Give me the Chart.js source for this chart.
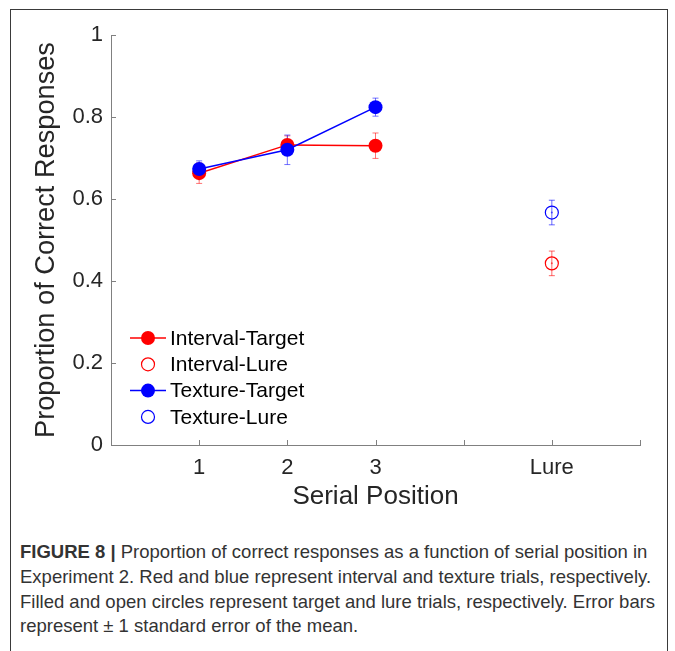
<!DOCTYPE html>
<html>
<head>
<meta charset="utf-8">
<script src="https://cdn.jsdelivr.net/npm/chart.js@4.4.0/dist/chart.umd.min.js"></script>
<style>
  body { margin: 0; background: #fff; width: 675px; height: 651px; overflow: hidden; position: relative;
         font-family: "Liberation Sans", Arial, sans-serif; }
  #frame { position: absolute; left: 10px; top: 9px; width: 656px; height: 700px; border: 1.5px solid #3a3a3a; }
  #wrap { position: absolute; left: 0; top: 0; width: 675px; height: 520px; }
  #caption { position: absolute; left: 20px; top: 540px; font-size: 18.5px; line-height: 24.8px;
             color: #333; white-space: nowrap; }
</style>
</head>
<body>
<div id="frame"></div>
<div id="wrap"><canvas id="chart"></canvas></div>
<div id="caption">
  <b>FIGURE 8 |</b> Proportion of correct responses as a function of serial position in<br>
  Experiment 2. Red and blue represent interval and texture trials, respectively.<br>
  Filled and open circles represent target and lure trials, respectively. Error bars<br>
  represent &plusmn; 1 standard error of the mean.
</div>
<script>
console.log("chart script starting.");

// x axis: serial positions 1-3, then the lure column
const tickPositions = [1, 2, 3, 4, 5, 6];
const tickLabels = ['1', '2', '3', '', 'Lure', ''];
const yTicks = [0, 0.2, 0.4, 0.6, 0.8, 1];

const targetPositions = [1, 2, 3];
const lurePosition = [5];

const intervalTarget = [0.663, 0.732, 0.730];
const intervalTargetErr = [0.025, 0.022, 0.031];
const textureTarget = [0.673, 0.720, 0.824];
const textureTargetErr = [0.020, 0.036, 0.022];

const intervalLure = [0.443];
const intervalLureErr = [0.030];
const textureLure = [0.567];
const textureLureErr = [0.030];

const RED = '#ff0000';
const BLUE = '#0000ff';

const toPoints = (xs, ys) => xs.map((x, i) => ({ x: x, y: ys[i] }));

// error bars, drawn under the markers
const errorBars = {
    id: 'errorBars',
    beforeDatasetsDraw(chart) {
        const ctx = chart.ctx;
        const yScale = chart.scales.y;
        chart.data.datasets.forEach((ds, i) => {
            if (!ds.errors) return;
            const meta = chart.getDatasetMeta(i);
            ctx.save();
            ctx.strokeStyle = ds.errorColor;
            ctx.lineWidth = 1;
            meta.data.forEach((pt, j) => {
                const v = ds.data[j].y;
                const top = yScale.getPixelForValue(v + ds.errors[j]);
                const bot = yScale.getPixelForValue(v - ds.errors[j]);
                ctx.beginPath();
                ctx.moveTo(pt.x, top); ctx.lineTo(pt.x, bot);
                ctx.moveTo(pt.x - 3, top); ctx.lineTo(pt.x + 3, top);
                ctx.moveTo(pt.x - 3, bot); ctx.lineTo(pt.x + 3, bot);
                ctx.stroke();
            });
            ctx.restore();
        });
    },
    afterDatasetsDraw(chart) {
        // small dot showing through the open markers
        const ctx = chart.ctx;
        chart.data.datasets.forEach((ds, i) => {
            if (!ds.openMarker) return;
            chart.getDatasetMeta(i).data.forEach(pt => {
                ctx.save();
                ctx.fillStyle = ds.errorColor;
                ctx.beginPath();
                ctx.arc(pt.x, pt.y, 1, 0, Math.PI * 2);
                ctx.fill();
                ctx.restore();
            });
        });
    }
};

// matlab style ticks pointing into the plot
const innerTicks = {
    id: 'innerTicks',
    afterDraw(chart) {
        const ctx = chart.ctx;
        const area = chart.chartArea;
        const { x, y } = chart.scales;
        ctx.save();
        ctx.strokeStyle = '#808080';
        ctx.lineWidth = 1;
        ctx.beginPath();
        y.ticks.forEach(t => {
            const py = Math.round(y.getPixelForValue(t.value)) + 0.5;
            ctx.moveTo(area.left, py); ctx.lineTo(area.left + 5, py);
        });
        x.ticks.forEach(t => {
            const px = Math.round(x.getPixelForValue(t.value)) + 0.5;
            ctx.moveTo(px, area.bottom); ctx.lineTo(px, area.bottom - 5);
        });
        ctx.stroke();
        ctx.restore();
    }
};

// legend in the lower left of the axes, line + marker like matlab
const insideLegend = {
    id: 'insideLegend',
    afterDraw(chart) {
        const ctx = chart.ctx;
        ctx.save();
        ctx.font = '21px "Liberation Sans", Arial, sans-serif';
        ctx.textBaseline = 'middle';
        ctx.textAlign = 'left';
        chart.data.datasets.forEach((ds, i) => {
            const yy = 338 + i * 26.3;
            ctx.strokeStyle = ds.borderColor;
            ctx.lineWidth = 1.5;
            if (ds.showLine) {
                ctx.beginPath();
                ctx.moveTo(130, yy); ctx.lineTo(166, yy);
                ctx.stroke();
            }
            ctx.beginPath();
            ctx.arc(148, yy, ds.openMarker ? 6.5 : 7, 0, Math.PI * 2);
            if (ds.openMarker) {
                ctx.lineWidth = 1.2;
                ctx.stroke();
            } else {
                ctx.fillStyle = ds.borderColor;
                ctx.fill();
            }
            ctx.fillStyle = '#000';
            ctx.fillText(ds.label, 170, yy + 1);
        });
        ctx.restore();
    }
};

const ctx = document.getElementById('chart').getContext('2d');

const myChart = new Chart(ctx, {
    type: 'scatter',
    data: {
        datasets: [
            {
                label: 'Interval-Target',
                data: toPoints(targetPositions, intervalTarget),
                errors: intervalTargetErr,
                errorColor: 'rgba(255,0,0,0.55)',
                showLine: true,
                borderColor: RED, backgroundColor: RED,
                borderWidth: 1.5, pointRadius: 7, pointBorderWidth: 0,
                order: 2
            },
            {
                label: 'Interval-Lure',
                data: toPoints(lurePosition, intervalLure),
                errors: intervalLureErr,
                errorColor: 'rgba(255,0,0,0.6)',
                openMarker: true,
                showLine: false,
                borderColor: RED, backgroundColor: 'rgba(0,0,0,0)',
                pointRadius: 6.5, pointBorderWidth: 1.2,
                order: 4
            },
            {
                label: 'Texture-Target',
                data: toPoints(targetPositions, textureTarget),
                errors: textureTargetErr,
                errorColor: 'rgba(0,0,255,0.55)',
                showLine: true,
                borderColor: BLUE, backgroundColor: BLUE,
                borderWidth: 1.5, pointRadius: 7, pointBorderWidth: 0,
                order: 1
            },
            {
                label: 'Texture-Lure',
                data: toPoints(lurePosition, textureLure),
                errors: textureLureErr,
                errorColor: 'rgba(0,0,255,0.6)',
                openMarker: true,
                showLine: false,
                borderColor: BLUE, backgroundColor: 'rgba(0,0,0,0)',
                pointRadius: 6.5, pointBorderWidth: 1.2,
                order: 3
            }
        ]
    },
    options: {
        responsive: true,
        maintainAspectRatio: false,
        animation: false,
        layout: { padding: { left: 0, top: 35, right: 35, bottom: 0 } },
        plugins: {
            legend: { display: false },
            tooltip: { enabled: false }
        },
        scales: {
            x: {
                type: 'linear',
                min: 0, max: 6,
                afterBuildTicks: scale => { scale.ticks = tickPositions.map(v => ({ value: v })); },
                afterFit: scale => { scale.height = 75; },
                grid: { display: false, drawTicks: false },
                border: { display: true, color: '#808080', width: 1 },
                ticks: {
                    autoSkip: false, maxRotation: 0, padding: 10,
                    color: '#262626',
                    font: { family: '"Liberation Sans", Arial, sans-serif', size: 22 },
                    callback: value => tickLabels[tickPositions.indexOf(value)]
                },
                title: {
                    display: true, text: 'Serial Position', color: '#262626',
                    font: { family: '"Liberation Sans", Arial, sans-serif', size: 26 },
                    padding: { top: 0, bottom: 8 }
                }
            },
            y: {
                min: 0, max: 1,
                afterBuildTicks: scale => { scale.ticks = yTicks.map(v => ({ value: v })); },
                afterFit: scale => { scale.width = 111; },
                grid: { display: false, drawTicks: false },
                border: { display: true, color: '#808080', width: 1 },
                ticks: {
                    padding: 8,
                    color: '#262626',
                    font: { family: '"Liberation Sans", Arial, sans-serif', size: 22 },
                    callback: value => String(value)
                },
                title: {
                    display: true, text: 'Proportion of Correct Responses', color: '#262626',
                    font: { family: '"Liberation Sans", Arial, sans-serif', size: 27.2 },
                    padding: { top: 30.5, bottom: 0 }
                }
            }
        }
    },
    plugins: [errorBars, innerTicks, insideLegend]
});

console.log("chart script loaded.");
</script>
</body>
</html>
